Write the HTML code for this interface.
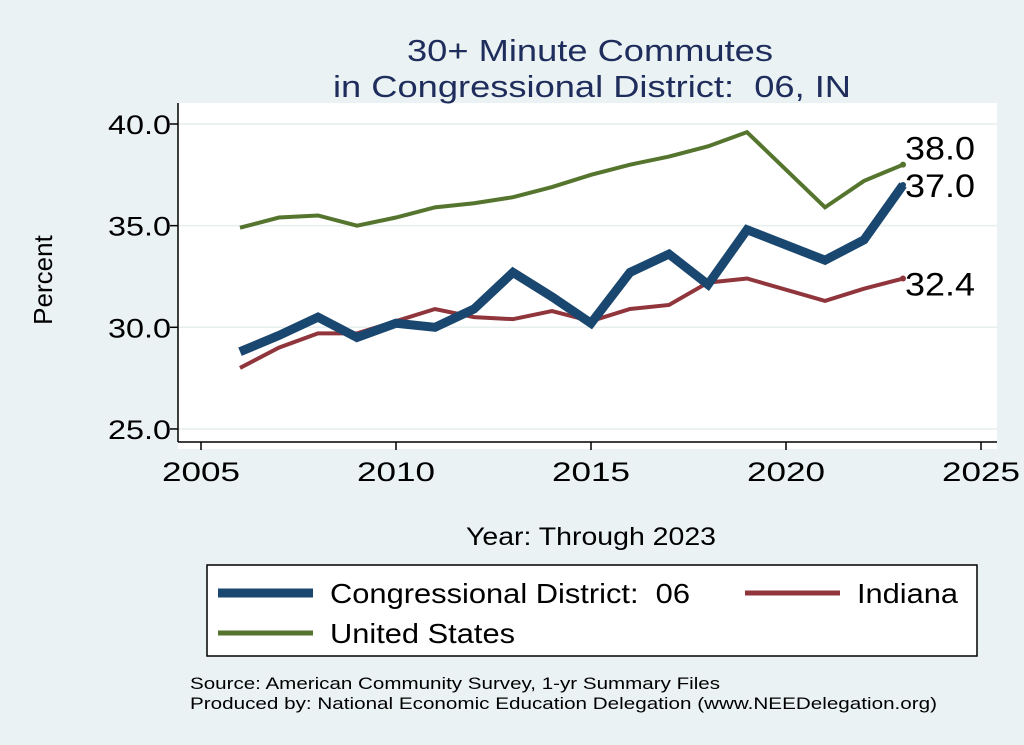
<!DOCTYPE html>
<html><head><meta charset="utf-8"><style>
body{margin:0;background:#eaf2f3;}
svg{display:block;font-family:"Liberation Sans",sans-serif;}
text{white-space:pre;}
</style></head><body>
<svg width="1024" height="745">
<rect x="0" y="0" width="1024" height="745" fill="#eaf2f3"/>
<rect x="178" y="103" width="819" height="346" fill="#fff"/>
<text x="407" y="61" font-size="31" fill="#1f2d5c" textLength="366" lengthAdjust="spacingAndGlyphs">30+ Minute Commutes</text>
<text x="333" y="97" font-size="31" fill="#1f2d5c" textLength="518" lengthAdjust="spacingAndGlyphs">in Congressional District:  06, IN</text>
<g id="grid"></g><g id="axes"></g><g id="series"></g>
<text x="52" y="280" text-anchor="middle" font-size="26" transform="rotate(-90 52 280)">Percent</text>
<text x="466" y="545" font-size="25" textLength="250" lengthAdjust="spacingAndGlyphs">Year: Through 2023</text>
<rect x="207" y="565" width="770" height="91" fill="#fff" stroke="#000" stroke-width="1.5"/>
<g><line x1="218" y1="593" x2="313" y2="593" stroke="#1a476f" stroke-width="9"/><text x="330" y="603" font-size="28" textLength="360" lengthAdjust="spacingAndGlyphs">Congressional District:  06</text></g>
<g><line x1="745" y1="593" x2="840" y2="593" stroke="#90353b" stroke-width="5"/><text x="857" y="603" font-size="28" textLength="101" lengthAdjust="spacingAndGlyphs">Indiana</text></g>
<g><line x1="218" y1="633" x2="313" y2="633" stroke="#55752f" stroke-width="5"/><text x="330" y="643" font-size="28" textLength="185" lengthAdjust="spacingAndGlyphs">United States</text></g>
<text x="190" y="689" font-size="17" textLength="530" lengthAdjust="spacingAndGlyphs">Source: American Community Survey, 1-yr Summary Files</text>
<text x="190" y="709" font-size="17" textLength="747" lengthAdjust="spacingAndGlyphs">Produced by: National Economic Education Delegation (www.NEEDelegation.org)</text>
</svg>
<script>
const years=[2006,2007,2008,2009,2010,2011,2012,2013,2014,2015,2016,2017,2018,2019,2021,2022,2023];
const usVals=[34.9,35.4,35.5,35.0,35.4,35.9,36.1,36.4,36.9,37.5,38.0,38.4,38.9,39.6,35.9,37.2,38.0];
const cdVals=[28.8,29.6,30.5,29.5,30.2,30.0,30.9,32.7,31.5,30.2,32.7,33.6,32.1,34.8,33.3,34.3,37.0];
const inVals=[28.0,29.0,29.7,29.7,30.3,30.9,30.5,30.4,30.8,30.3,30.9,31.1,32.2,32.4,31.3,31.9,32.4];
const yTicks=[25,30,35,40];
const xTicks=[2005,2010,2015,2020,2025];
const NS="http://www.w3.org/2000/svg";
const xs=v=>201+(v-2005)*39;
const ys=v=>124+(40-v)*20.33;
function mk(t,a,p){const e=document.createElementNS(NS,t);for(const k in a)e.setAttribute(k,a[k]);p.appendChild(e);return e;}
const grid=document.getElementById('grid'),axes=document.getElementById('axes'),ser=document.getElementById('series');
yTicks.forEach(v=>{
 const g=mk('line',{x1:178,x2:997,y1:ys(v),y2:ys(v),stroke:'#e6eeee','stroke-width':1.5},grid);
 
 
 mk('line',{x1:170,x2:178,y1:ys(v),y2:ys(v),stroke:'#000','stroke-width':1.5},axes);
 const t=mk('text',{x:108,y:ys(v)+10,'font-size':27,textLength:63,lengthAdjust:'spacingAndGlyphs'},axes);t.textContent=v.toFixed(1);
 
 
});
xTicks.forEach(v=>{
 mk('line',{x1:xs(v),x2:xs(v),y1:442,y2:450,stroke:'#000','stroke-width':1.5},axes);
 const t=mk('text',{x:xs(v)-39,y:481,'font-size':27,textLength:78,lengthAdjust:'spacingAndGlyphs'},axes);t.textContent=v;
 
 
});
mk('line',{x1:178,x2:178,y1:103,y2:442,stroke:'#000','stroke-width':1.5},axes);
mk('line',{x1:178,x2:997,y1:442,y2:442,stroke:'#000','stroke-width':1.5},axes);
function line(vals,color,w,name){
 const p=mk('polyline',{points:vals.map((v,i)=>xs(years[i])+','+ys(v)).join(' '),fill:'none',stroke:color,'stroke-width':w,'stroke-linejoin':'miter'},ser);
 
 
 const last=vals[vals.length-1];
 mk('circle',{cx:xs(years[years.length-1]),cy:ys(last),r:3,fill:color},ser);
}
line(usVals,'#55752f',4,'line-united-states');
line(inVals,'#90353b',4,'line-indiana');
line(cdVals,'#1a476f',9,'line-congressional-district');
const lab=[[usVals,-5],[cdVals,12],[inVals,17]];
lab.forEach(([vals,dy])=>{
 const v=vals[vals.length-1];
 const t=mk('text',{x:905,y:ys(v)+dy,'font-size':32,textLength:70,lengthAdjust:'spacingAndGlyphs'},ser);t.textContent=v.toFixed(1);
 
 
});
</script>
</body></html>
